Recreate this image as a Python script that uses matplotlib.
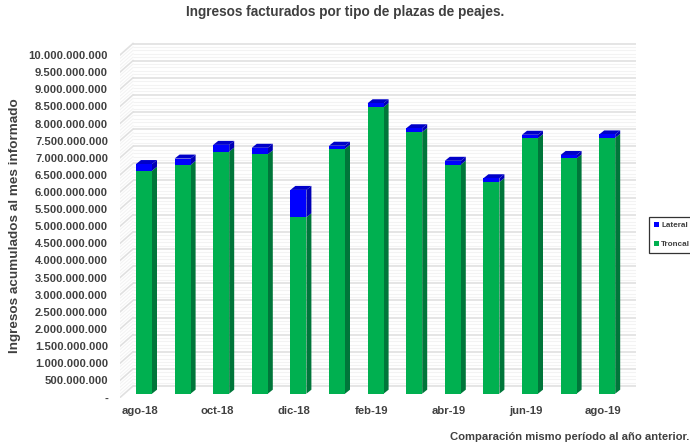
import matplotlib
matplotlib.use("Agg")
import matplotlib.pyplot as plt
from matplotlib.patches import Polygon, Patch
from matplotlib.transforms import ScaledTranslation

months = ["ago-18", "sep-18", "oct-18", "nov-18", "dic-18", "ene-19", "feb-19",
          "mar-19", "abr-19", "may-19", "jun-19", "jul-19", "ago-19"]
troncal = [6.51e9, 6.68e9, 7.07e9, 6.99e9, 5.15e9, 7.15e9, 8.37e9,
           7.64e9, 6.69e9, 6.18e9, 7.46e9, 6.87e9, 7.47e9]
lateral = [0.195e9, 0.185e9, 0.195e9, 0.19e9, 0.80e9, 0.09e9, 0.11e9,
           0.11e9, 0.11e9, 0.11e9, 0.10e9, 0.10e9, 0.10e9]
major_ticks = [i * 500_000_000 for i in range(21)]
tick_labels = ["-"] + [f"{v:,}".replace(",", ".") for v in major_ticks[1:]]
title = "Ingresos facturados por tipo de plazas de peajes."
ylabel = "Ingresos acumulados al mes informado"
note = "Comparación mismo período al año anterior."

W, H = 690, 446
GREEN, GREEN_SIDE = "#00b050", "#00763a"
BLUE, BLUE_SIDE, BLUE_TOP = "#0000ff", "#0000b4", "#0000c8"
TEXT = "#404040"
plt.rcParams["font.family"] = ["Liberation Sans", "DejaVu Sans"]
plt.rcParams["font.weight"] = "bold"

fig = plt.figure(figsize=(W / 100, H / 100), dpi=100)

# axes box in pixels (bar plane: value 0 at y=393.7, categories 38.6 px apart)
L, R, T, B = 120, 636, 40, 398
ax = fig.add_axes([L / W, 1 - B / H, (R - L) / W, (B - T) / H])
PX_X = 1 / 38.6
PX_Y = 500_000_000 / 17.125
ax.set_xlim((L - 144) * PX_X, (R - 144) * PX_X)
ax.set_ylim((393.7 - B) * PX_Y, (393.7 - T) * PX_Y)
ax.patch.set_visible(False)
for s in ax.spines.values():
    s.set_visible(False)

x_left = ax.get_xlim()[0]
x_right = ax.get_xlim()[1]
front_dy, back_dy = -3.8 * PX_Y, 7.7 * PX_Y
wall_dx = 13 * PX_X

# walls: fine stripes every fifth of a major step, stronger at the major steps
for k in range(101):
    v = k * 100_000_000
    major = k % 5 == 0
    c = "#e0e0e0" if major else "#f3f3f3"
    lw = 1.2 if major else 0.8
    z = 2 if major else 1
    ax.plot([x_left + wall_dx, x_right], [v + back_dy] * 2, color=c, lw=lw, zorder=z,
            solid_capstyle="butt")
    ax.plot([x_left, x_left + wall_dx], [v + front_dy, v + back_dy], color=c, lw=lw, zorder=z)

# bars
w = 16 * PX_X
depth_x, depth_y = 5 * PX_X, 4 * PX_Y
xs = list(range(len(months)))
ax.bar(xs, troncal, width=w, color=GREEN, zorder=5, label="Troncal")
ax.bar(xs, lateral, width=w, bottom=troncal, color=BLUE, zorder=5, label="Lateral")
for x, t, l in zip(xs, troncal, lateral):
    r = x + w / 2
    ax.add_patch(Polygon([(r, 0), (r + depth_x, depth_y), (r + depth_x, t + depth_y), (r, t)],
                         fc=GREEN_SIDE, ec="none", zorder=4))
    ax.add_patch(Polygon([(r, t), (r + depth_x, t + depth_y), (r + depth_x, t + l + depth_y), (r, t + l)],
                         fc=BLUE_SIDE, ec="none", zorder=4))
    ax.add_patch(Polygon([(x - w / 2, t + l), (r, t + l), (r + depth_x, t + l + depth_y),
                          (x - w / 2 + depth_x, t + l + depth_y)],
                         fc=BLUE_TOP, ec="none", zorder=4))

# ticks
ax.tick_params(length=0)
ax.set_yticks(major_ticks, tick_labels, fontsize=8.1)
ax.set_xticks(xs[::2], months[::2], fontsize=8.1)
ax.tick_params(axis="both", labelcolor=TEXT)
ax.tick_params(axis="y", pad=8.6)
ax.tick_params(axis="x", pad=5.5)
shift_y = ScaledTranslation(0, -3.8 / 100, fig.dpi_scale_trans)
for lab in ax.get_yticklabels():
    lab.set_transform(lab.get_transform() + shift_y)
shift_x = ScaledTranslation(-4 / 100, 0, fig.dpi_scale_trans)
for lab in ax.get_xticklabels():
    lab.set_transform(lab.get_transform() + shift_x)

fig.text(345.5 / W, 1 - 12 / H, title, ha="center", va="center", fontsize=9.8, color=TEXT)
fig.text(15 / W, 1 - 226 / H, ylabel, rotation=90, ha="center", va="center", fontsize=9.7, color=TEXT)
fig.text(689 / W, 1 - 436.5 / H, note, ha="right", va="center", fontsize=8.1, color=TEXT)

handles = [Patch(fc=BLUE, label="Lateral"), Patch(fc=GREEN, label="Troncal")]
leg = fig.legend(handles=handles, loc="upper left", bbox_to_anchor=(649 / W, 1 - 217 / H),
                 borderaxespad=0, fontsize=5.9, handlelength=0.6, handleheight=0.6,
                 handletextpad=0.3, labelspacing=1.4, borderpad=0.6, frameon=True,
                 fancybox=False, edgecolor="#333333", framealpha=1, labelcolor=TEXT)
leg.get_frame().set_linewidth(0.9)

fig.savefig("out.png", dpi=100)
